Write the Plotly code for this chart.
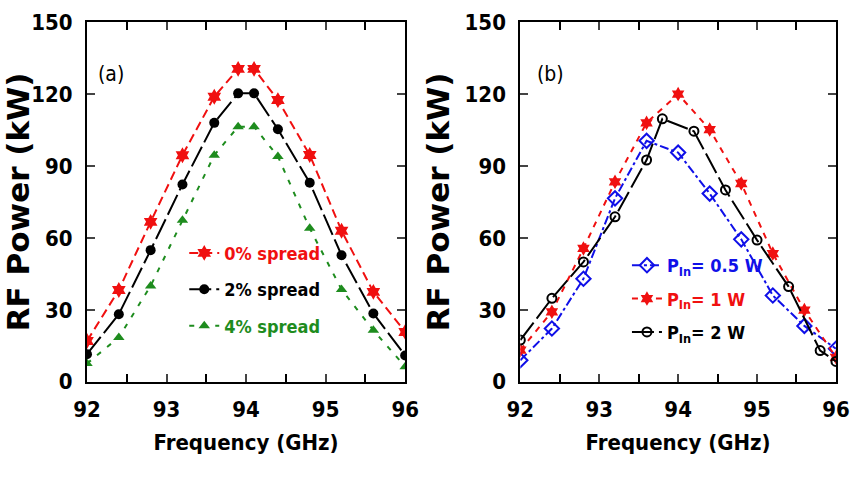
import plotly.graph_objects as go

# ---------------- data ----------------
freq_a = [92.0, 92.4, 92.8, 93.2, 93.6, 93.9, 94.1, 94.4, 94.8, 95.2, 95.6, 96.0]
spread0 = [17.0, 38.3, 66.7, 94.5, 118.9, 130.5, 130.5, 117.5, 94.6, 63.0, 37.5, 20.8]
spread2 = [11.5, 28.2, 54.9, 82.3, 108.0, 120.3, 120.3, 105.3, 83.0, 52.8, 28.5, 11.0]
spread4 = [7.6, 18.5, 40.0, 67.4, 94.5, 106.4, 106.4, 94.0, 64.0, 38.5, 21.5, 6.3]

freq_b_blue = [92.0, 92.4, 92.8, 93.2, 93.6, 94.0, 94.4, 94.8, 95.2, 95.6, 96.0]
pin05 = [9.0, 22.2, 43.0, 76.5, 100.5, 95.6, 78.5, 59.4, 36.0, 23.3, 13.8]
freq_b_red = [92.0, 92.4, 92.8, 93.2, 93.6, 94.0, 94.4, 94.8, 95.2, 95.6, 96.0]
pin1 = [13.2, 29.2, 55.6, 83.4, 108.0, 120.0, 105.2, 82.7, 53.5, 29.9, 10.2]
freq_b_black = [92.0, 92.4, 92.8, 93.2, 93.6, 93.8, 94.2, 94.6, 95.0, 95.4, 95.8, 96.0]
pin2 = [17.4, 34.8, 50.0, 68.8, 92.5, 109.7, 104.5, 80.0, 59.1, 39.7, 13.0, 8.5]

x_ticks = [92, 93, 94, 95, 96]
y_ticks = [0, 30, 60, 90, 120, 150]

RED = "#f01010"
BLACK = "#000000"
GREEN = "#1e8c1e"
BLUE = "#1010e8"

NARROW = "DejaVu Sans Condensed, Liberation Sans, sans-serif"

fig = go.Figure()

def col(name, c):
    return f"<span style='color:{c}'>{name}</span>"

# panel (a)
fig.add_trace(go.Scatter(x=freq_a, y=spread0, mode="lines+markers", name=col("0% spread", RED),
                         line=dict(color=RED, width=2, dash="9px,5px"),
                         marker=dict(symbol="hexagram", size=12, color=RED),
                         xaxis="x", yaxis="y", legend="legend", legendgroup="a0"))
fig.add_trace(go.Scatter(x=freq_a, y=spread2, mode="lines+markers", name=col("2% spread", BLACK),
                         line=dict(color=BLACK, width=2, dash="22px,5px"),
                         marker=dict(symbol="circle", size=10, color=BLACK),
                         xaxis="x", yaxis="y", legend="legend", legendgroup="a2"))
fig.add_trace(go.Scatter(x=freq_a, y=spread4, mode="lines+markers", name=col("4% spread", GREEN),
                         line=dict(color=GREEN, width=2, dash="5px,8px"),
                         marker=dict(symbol="triangle-up", size=10, color=GREEN),
                         xaxis="x", yaxis="y", legend="legend", legendgroup="a4"))

# panel (b)
fig.add_trace(go.Scatter(x=freq_b_blue, y=pin05, mode="lines+markers",
                         name=col("P<sub>In</sub>= 0.5 W", BLUE),
                         line=dict(color=BLUE, width=2, dash="dashdot"),
                         marker=dict(symbol="diamond-open", size=11, color=BLUE, line=dict(width=2)),
                         xaxis="x2", yaxis="y2", legend="legend2", legendgroup="b05"))
fig.add_trace(go.Scatter(x=freq_b_red, y=pin1, mode="lines+markers",
                         name=col("P<sub>In</sub>= 1 W", RED),
                         line=dict(color=RED, width=2, dash="6px,6px"),
                         marker=dict(symbol="hexagram", size=11, color=RED),
                         xaxis="x2", yaxis="y2", legend="legend2", legendgroup="b1"))
fig.add_trace(go.Scatter(x=freq_b_black, y=pin2, mode="lines+markers",
                         name=col("P<sub>In</sub>= 2 W", BLACK),
                         line=dict(color=BLACK, width=2, dash="22px,5px"),
                         marker=dict(symbol="circle-open", size=9, color=BLACK, line=dict(width=2)),
                         xaxis="x2", yaxis="y2", legend="legend2", legendgroup="b2"))

xax = dict(range=[92, 96], tickvals=x_ticks, ticks="inside", ticklen=8, tickwidth=2,
           showline=True, linewidth=2, linecolor="black", mirror="ticks",
           showgrid=False, zeroline=False, automargin=False, ticklabeloverflow="allow",
           minor=dict(dtick=0.5, ticks="inside", ticklen=8, tickwidth=2, tickcolor="black", showgrid=False),
           tickfont=dict(family=NARROW, size=22, color="black", weight="bold"),
           ticklabelstandoff=7,
           title=dict(text="Frequency (GHz)", font=dict(family=NARROW, size=22, color="black", weight="bold"),
                      standoff=13))
yax = dict(range=[0, 150], tickvals=y_ticks, ticks="inside", ticklen=8, tickwidth=2,
           showline=True, linewidth=2, linecolor="black", mirror="ticks",
           showgrid=False, zeroline=False, automargin=False, ticklabeloverflow="allow",
           tickfont=dict(family=NARROW, size=22, color="black", weight="bold"),
           ticklabelstandoff=8,
           title=dict(text="RF Power (kW)", font=dict(family="DejaVu Sans", size=31, color="black", weight="bold"),
                      standoff=6))

legfont = dict(family=NARROW, size=18, color="black", weight="bold")

fig.update_layout(
    width=853, height=492, autosize=False,
    margin=dict(l=0, r=0, t=0, b=0),
    paper_bgcolor="white", plot_bgcolor="white",
    xaxis=dict(domain=[0.102, 0.475], anchor="y", **xax),
    yaxis=dict(domain=[0.224, 0.955], anchor="x", **yax),
    xaxis2=dict(domain=[0.610, 0.980], anchor="y2", **xax),
    yaxis2=dict(domain=[0.224, 0.955], anchor="x2", **yax),
    legend=dict(x=0.216, y=0.523, xanchor="left", yanchor="top", bgcolor="rgba(0,0,0,0)",
                font=legfont, tracegroupgap=10, itemwidth=30, traceorder="grouped"),
    legend2=dict(x=0.735, y=0.498, xanchor="left", yanchor="top", bgcolor="rgba(0,0,0,0)",
                 font=legfont, tracegroupgap=7, itemwidth=30, traceorder="grouped"),
    annotations=[
        dict(text="(a)", x=0.113, y=0.85, xref="paper", yref="paper", showarrow=False,
             xanchor="left", yanchor="middle", font=dict(family=NARROW, size=21, color="black")),
        dict(text="(b)", x=0.627, y=0.85, xref="paper", yref="paper", showarrow=False,
             xanchor="left", yanchor="middle", font=dict(family=NARROW, size=21, color="black")),
    ],
)

fig.write_html("out.html")
